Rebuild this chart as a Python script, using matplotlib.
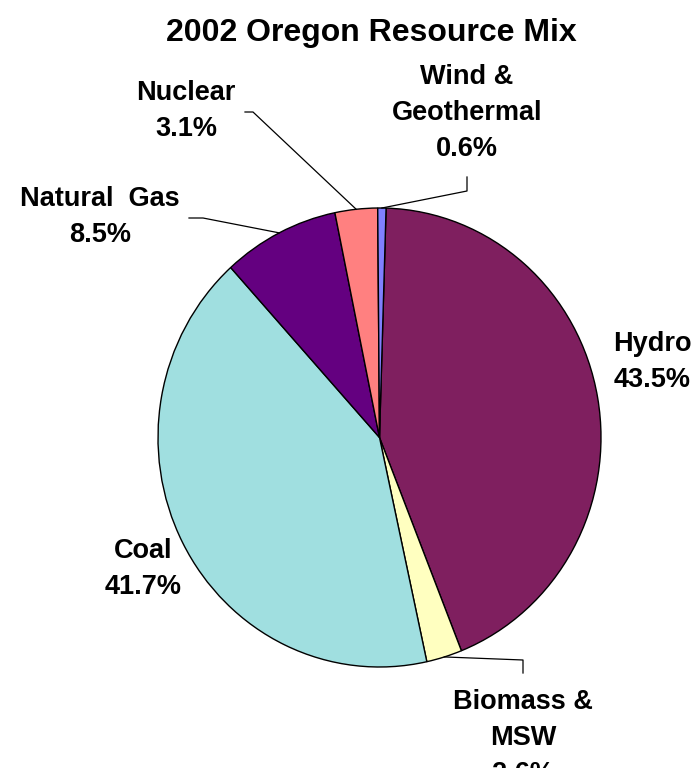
import numpy as np
import matplotlib.pyplot as plt

W, H = 700, 768
CX, CY = 379.5, 437.5  # pie centre in pixels
RX, RY = 221.5, 229.5  # the pie is slightly taller than wide

sources = ["Hydro", "Biomass &\nMSW", "Coal", "Natural  Gas", "Nuclear", "Wind &\nGeothermal"]
shares = [43.5, 2.6, 41.7, 8.5, 3.1, 0.6]
colors = ["#7f1f5f", "#ffffc0", "#a0dfe0", "#640080", "#ff8080", "#8080ff"]

plt.rcParams['font.family'] = ['Liberation Sans', 'DejaVu Sans']

fig = plt.figure(figsize=(W / 100, H / 100), dpi=100)
ax = fig.add_axes([(CX - RX) / W, (H - CY - RY) / H, 2 * RX / W, 2 * RY / H])
wedges, _ = ax.pie(shares, colors=colors, startangle=88.3, counterclock=False,
                   radius=1, wedgeprops=dict(edgecolor="black", linewidth=1.0))
ax.set_aspect("auto")
ax.set_xlim(-1, 1)
ax.set_ylim(-1, 1)
ax.axis("off")


def px(x, y):
    # pixel position -> data coords of the pie axes
    return (x - CX) / RX, (CY - y) / RY


def mid(w, r=1.0):
    a = np.deg2rad((w.theta1 + w.theta2) / 2)
    return r * np.cos(a), r * np.sin(a)


fig.text(371 / W, 1 - 33 / H, "2002 Oregon Resource Mix", ha="center", va="center",
         fontsize=23, fontweight="bold")

# label text positions (pixels, centre of block)
label_pos = {
    "Hydro": (652, 362),
    "Biomass &\nMSW": (523, 738),
    "Coal": (143, 569),
    "Natural  Gas": (100, 217),
    "Nuclear": (186, 111),
    "Wind &\nGeothermal": (467, 113),
}
for name, val, w in zip(sources, shares, wedges):
    x, y = label_pos[name]
    fig.text(x / W, 1 - y / H, f"{name}\n{val}%", ha="center", va="center",
             fontsize=19.5, fontweight="bold", linespacing=1.5)

# leader lines (pixel bends), plus radius where the line meets the wedge
leaders = {
    "Nuclear": ([(245, 112), (253, 112)], 1.0),
    "Wind &\nGeothermal": ([(467, 177), (467, 191)], 1.0),
    "Natural  Gas": ([(189, 218), (203, 218)], 1.0),
    "Biomass &\nMSW": ([(523, 673), (523, 660)], 1.0),
}
for name, w in zip(sources, wedges):
    if name not in leaders:
        continue
    bends, r = leaders[name]
    pts = [px(*p) for p in bends] + [mid(w, r)]
    xs, ys = zip(*pts)
    ax.plot(xs, ys, color="black", lw=0.9, clip_on=False)

fig.savefig("out.png", dpi=100, facecolor="white")
